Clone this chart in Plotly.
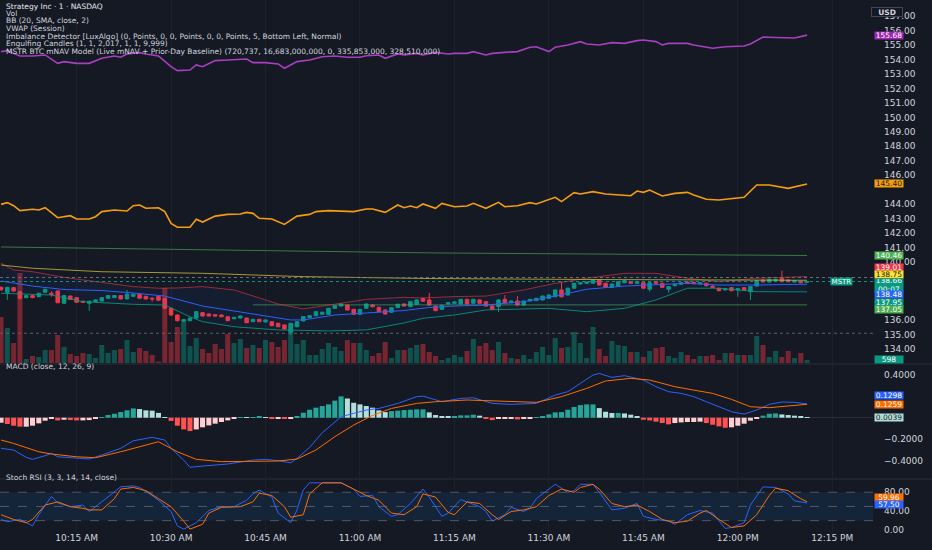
import pandas as pd
import plotly.graph_objects as go

# ------------------------------------------------------------
# CONFIG
# ------------------------------------------------------------
FONT = "DejaVu Sans"
BG = "#151924"
GRID = "#1d212c"
TEXT = "#d1d4dc"
UP, DOWN = "#089981", "#f23645"

SESSION_START = "2025-06-02 10:03"   # first 1-minute bar on screen

# ------------------------------------------------------------
# DATA
# ------------------------------------------------------------
bar_open = [
    138.26, 137.92, 138.24, 137.96, 137.55, 137.69, 137.61, 137.92, 137.85, 138.01,
    137.16, 137.66, 137.55, 137.30, 137.16, 137.27, 137.32, 137.51, 137.55, 137.69,
    137.46, 137.64, 137.78, 137.64, 137.51, 137.64, 137.50, 136.81, 136.35, 135.93,
    135.96, 136.14, 136.51, 136.42, 136.37, 136.35, 136.23, 136.09, 136.14, 136.14,
    135.89, 136.05, 135.87, 135.89, 135.78, 135.66, 135.16, 135.54, 135.94, 136.17,
    136.30, 136.40, 136.40, 136.81, 136.97, 137.04, 136.74, 136.40, 136.81, 137.04,
    136.88, 136.70, 136.54, 136.86, 137.11, 136.93, 137.09, 137.48, 137.39, 136.97,
    136.74, 137.11, 137.16, 137.11, 137.43, 137.16, 137.39, 137.27, 136.97, 136.93,
    137.43, 137.20, 137.32, 137.04, 137.32, 137.34, 137.39, 137.50, 137.61, 138.08,
    137.73, 138.20, 138.49, 138.54, 138.54, 138.77, 138.54, 138.26, 138.35, 138.58,
    138.65, 138.54, 138.58, 138.13, 138.65, 138.54, 138.13, 138.37, 138.47, 138.63,
    138.61, 138.49, 138.54, 138.35, 138.19, 138.08, 138.24, 138.08, 138.24, 137.96,
    138.35, 138.77, 138.63, 138.72, 138.89, 138.77, 138.63, 138.68, 138.61,
]
bar_high = [
    138.33, 138.30, 138.30, 138.02, 137.73, 137.73, 137.89, 138.17, 138.00, 138.05,
    137.72, 137.70, 137.58, 137.34, 137.34, 137.43, 137.59, 137.73, 137.73, 137.73,
    138.08, 137.82, 137.82, 137.68, 137.55, 137.68, 137.54, 136.85, 136.39, 136.08,
    136.18, 136.62, 136.55, 136.46, 136.41, 136.39, 136.27, 136.23, 136.32, 136.18,
    136.09, 136.09, 136.05, 135.93, 135.82, 135.70, 135.82, 135.93, 136.28, 136.34,
    136.62, 136.58, 136.85, 137.03, 137.15, 137.08, 136.78, 136.78, 137.15, 137.10,
    136.92, 136.74, 136.90, 137.13, 137.15, 137.31, 137.43, 137.56, 137.87, 137.01,
    137.06, 137.24, 137.29, 137.47, 137.47, 137.47, 137.43, 137.31, 137.01, 137.43,
    137.73, 137.36, 137.66, 137.36, 137.47, 137.54, 137.70, 137.77, 138.12, 138.65,
    138.24, 138.58, 138.62, 138.67, 138.81, 138.81, 138.58, 138.53, 138.69, 138.76,
    138.69, 138.69, 138.62, 138.62, 138.69, 138.58, 138.35, 138.53, 138.62, 138.67,
    138.65, 138.62, 138.58, 138.39, 138.23, 138.21, 138.28, 138.21, 138.28, 138.35,
    138.76, 138.81, 138.86, 138.86, 139.41, 138.81, 138.76, 138.72, 138.70,
]
bar_low = [
    138.02, 137.40, 137.96, 137.40, 137.50, 137.51, 137.58, 137.88, 137.62, 137.16,
    137.12, 137.40, 137.19, 137.19, 136.63, 137.24, 137.29, 137.48, 137.52, 137.42,
    137.43, 137.61, 137.48, 137.42, 137.27, 137.33, 136.76, 136.30, 135.90, 135.88,
    135.92, 136.10, 136.24, 136.25, 136.25, 136.20, 135.92, 136.06, 136.11, 135.78,
    135.86, 135.86, 135.84, 135.57, 135.50, 135.35, 134.97, 135.50, 135.91, 136.14,
    136.27, 136.37, 136.37, 136.78, 136.94, 136.66, 136.36, 136.37, 136.78, 136.88,
    136.54, 136.38, 136.51, 136.83, 136.94, 136.90, 137.06, 137.26, 137.00, 136.61,
    136.71, 137.08, 137.13, 137.08, 137.08, 137.13, 137.13, 136.93, 136.70, 136.56,
    137.17, 137.17, 137.01, 137.01, 137.29, 137.31, 137.36, 137.47, 137.58, 137.57,
    137.70, 138.17, 138.46, 138.51, 138.51, 138.38, 138.22, 138.23, 138.32, 138.55,
    138.51, 138.51, 138.16, 137.96, 138.51, 138.22, 137.89, 138.34, 138.44, 138.51,
    138.48, 138.46, 138.33, 138.23, 137.99, 138.05, 137.99, 137.61, 138.04, 137.39,
    138.32, 138.60, 138.60, 138.69, 138.62, 138.62, 138.60, 138.55, 138.58,
]
bar_close = [
    138.10, 138.26, 138.01, 137.51, 137.69, 137.55, 137.85, 138.13, 137.78, 137.20,
    137.69, 137.43, 137.23, 137.23, 137.30, 137.39, 137.55, 137.69, 137.69, 137.46,
    137.78, 137.78, 137.51, 137.46, 137.46, 137.37, 136.81, 136.35, 135.96, 136.03,
    136.14, 136.58, 136.28, 136.28, 136.28, 136.23, 135.96, 136.19, 136.28, 135.82,
    136.05, 135.89, 136.01, 135.61, 135.54, 135.39, 135.78, 135.89, 136.24, 136.30,
    136.58, 136.54, 136.81, 136.99, 137.11, 136.70, 136.40, 136.74, 137.11, 136.92,
    136.58, 136.42, 136.86, 137.09, 136.97, 137.27, 137.39, 137.30, 137.04, 136.65,
    137.02, 137.20, 137.25, 137.43, 137.11, 137.43, 137.16, 136.97, 136.74, 137.39,
    137.20, 137.32, 137.04, 137.32, 137.43, 137.50, 137.66, 137.73, 138.08, 137.61,
    138.20, 138.54, 138.58, 138.63, 138.77, 138.42, 138.26, 138.49, 138.65, 138.72,
    138.54, 138.65, 138.20, 138.58, 138.54, 138.26, 138.31, 138.49, 138.58, 138.54,
    138.51, 138.58, 138.37, 138.26, 138.03, 138.17, 138.03, 138.17, 138.08, 138.31,
    138.72, 138.63, 138.82, 138.82, 138.65, 138.65, 138.72, 138.58, 138.66,
]
volume = [
    9200, 7000, 4000, 18000, 800, 1400, 1200, 2600, 2600, 5600,
    3200, 1800, 1400, 2000, 1800, 1000, 3600, 2000, 2600, 2800,
    4600, 2200, 3000, 2400, 1600, 300, 15000, 4200, 7200, 8400,
    3400, 5000, 2800, 2000, 3800, 2800, 5800, 4000, 4800, 3000,
    3600, 3000, 4600, 4200, 3200, 4600, 7800, 3800, 4600, 1600,
    1600, 2800, 4000, 3200, 2400, 4600, 4000, 4000, 2600, 1400,
    2000, 4200, 1000, 2600, 2600, 3000, 3600, 3800, 2200, 1400,
    600, 1000, 1600, 1200, 2400, 4800, 3400, 4000, 2600, 4200,
    2000, 1000, 800, 1600, 800, 2200, 3200, 1600, 5000, 3000,
    3200, 6200, 4000, 1000, 7200, 2800, 1400, 4400, 3600, 3400,
    2200, 2200, 1200, 2400, 3000, 3200, 1400, 1000, 2200, 1600,
    800, 1400, 1400, 1600, 600, 2000, 2000, 1600, 1600, 1600,
    5400, 3600, 1200, 2400, 1200, 2400, 1000, 2000, 598,
]
macd_hist = [
    -0.047, -0.059, -0.075, -0.084, -0.084, -0.075, -0.053, -0.028, -0.006, -0.025,
    -0.019, -0.022, -0.025, -0.025, -0.022, -0.012, 0.006, 0.025, 0.037, 0.053,
    0.069, 0.087, 0.081, 0.069, 0.066, 0.045, 0.006, -0.030, -0.075, -0.110,
    -0.125, -0.110, -0.090, -0.072, -0.056, -0.040, -0.025, -0.012, 0.006, 0.003,
    0.006, 0.009, 0.006, -0.006, -0.006, -0.012, -0.006, 0.012, 0.047, 0.075,
    0.094, 0.109, 0.125, 0.160, 0.200, 0.180, 0.140, 0.125, 0.110, 0.094,
    0.069, 0.053, 0.062, 0.066, 0.072, 0.075, 0.078, 0.078, 0.050, 0.025,
    0.012, 0.009, 0.016, 0.022, 0.022, 0.028, 0.019, -0.006, -0.022, -0.012,
    -0.006, -0.006, -0.016, -0.009, -0.003, 0.006, 0.016, 0.031, 0.050, 0.053,
    0.075, 0.100, 0.118, 0.125, 0.125, 0.090, 0.056, 0.044, 0.044, 0.040,
    0.028, 0.012, -0.019, -0.025, -0.037, -0.050, -0.062, -0.050, -0.044, -0.040,
    -0.040, -0.037, -0.050, -0.066, -0.081, -0.094, -0.090, -0.075, -0.056, -0.028,
    -0.006, 0.019, 0.037, 0.040, 0.031, 0.025, 0.019, 0.012, 0.0039,
]

# overlay lines: (bar index, value) samples
bb_upper_idx = [0, 2, 5, 10, 16, 21, 25, 28, 32, 37, 41, 44, 48, 53, 58, 64, 67, 72, 77, 83, 88, 93, 99, 104, 109, 114, 120, 128]
bb_upper = [139.92, 139.46, 139.34, 138.95, 138.60, 138.31, 138.20, 138.22, 138.31, 138.08, 137.53, 137.11, 136.77, 137.11,
            137.43, 137.57, 137.53, 137.62, 137.66, 138.08, 138.54, 138.89, 139.23, 139.23, 138.89, 138.65, 138.89, 139.01]
bb_basis_idx = [0, 5, 10, 16, 21, 26, 32, 37, 42, 46, 48, 53, 58, 64, 68, 72, 77, 83, 88, 93, 99, 104, 109, 114, 120, 128]
bb_basis = [138.70, 138.35, 138.11, 138.04, 137.87, 137.66, 136.97, 136.63, 136.28, 136.01, 136.01, 136.35, 136.49,
            136.66, 136.87, 136.97, 137.04, 137.27, 137.66, 138.13, 138.35, 138.42, 138.54, 138.42, 138.42, 138.48]
bb_lower_idx = [0, 8, 13, 21, 26, 30, 32, 37, 44, 52, 58, 64, 67, 72, 77, 87, 93, 99, 104, 109, 114, 120, 128]
bb_lower = [137.85, 137.73, 137.27, 137.09, 137.04, 136.23, 135.89, 135.54, 135.32, 135.25, 135.32, 135.80, 136.12,
            136.35, 136.70, 136.81, 136.58, 136.81, 137.39, 138.20, 138.20, 137.96, 137.95]
vwap_idx = [0, 5, 16, 32, 48, 68, 95, 128]
vwap = [139.80, 139.58, 139.34, 139.23, 139.00, 138.87, 138.80, 138.75]
zone_top_idx = [0, 68, 128]
zone_top = [141.05, 140.64, 140.46]
zone_bottom_idx = [40, 128]
zone_bottom = [137.05, 137.05]
prior_close = 138.94
session_low_mark = 135.09
last_price = 138.66

mnav_idx = [0, 1, 3, 5, 7, 9, 10, 12, 14, 16, 18, 19, 20, 22, 23, 25, 27, 28, 30, 31, 32, 34, 36, 38, 39, 40, 42,
            44, 45, 47, 49, 51, 53, 55, 57, 58, 60, 61, 63, 64, 66, 67, 69, 71, 72, 74, 75, 77, 78, 80, 82, 84, 85,
            87, 88, 90, 92, 93, 95, 97, 99, 101, 102, 104, 105, 106, 109, 110, 112, 113, 115, 117, 118, 119, 121,
            123, 126, 128]
mnav = [154.54, 154.61, 154.24, 154.24, 154.31, 153.73, 153.85, 153.73, 153.73, 154.08, 154.24, 154.15, 154.38,
        154.47, 154.38, 154.24, 153.50, 153.23, 153.27, 153.62, 153.50, 153.92, 153.96, 154.01, 154.03, 153.78,
        153.78, 153.69, 153.39, 153.85, 153.96, 154.19, 154.24, 154.15, 154.15, 154.26, 154.31, 154.08, 154.38,
        154.31, 154.42, 154.31, 154.49, 154.38, 154.42, 154.42, 154.54, 154.31, 154.42, 154.49, 154.54, 154.84,
        154.88, 154.54, 154.84, 155.00, 155.23, 155.07, 155.00, 155.16, 155.11, 155.30, 155.34, 155.23, 155.00,
        155.11, 155.11, 155.00, 154.84, 154.77, 154.88, 154.88, 154.93, 155.07, 155.55, 155.52, 155.48, 155.68]
baseline_idx = [0, 1, 2, 3, 5, 6, 7, 9, 11, 12, 14, 15, 16, 18, 20, 21, 22, 23, 25, 26, 27, 28, 30, 31, 32, 34, 36,
                38, 39, 40, 41, 43, 45, 47, 49, 50, 52, 54, 56, 58, 59, 61, 63, 64, 65, 66, 67, 69, 70, 72, 74, 75,
                77, 79, 80, 82, 84, 85, 88, 89, 91, 92, 94, 96, 98, 100, 101, 102, 103, 105, 107, 109, 110, 112,
                114, 117, 118, 120, 122, 125, 128]
baseline = [143.99, 144.11, 143.90, 143.56, 143.65, 143.60, 143.76, 143.07, 143.21, 142.98, 142.98, 143.14, 143.49,
            143.60, 143.53, 143.90, 143.95, 143.72, 143.76, 143.49, 142.68, 142.41, 142.41, 142.96, 142.77, 143.18,
            143.30, 143.33, 143.44, 143.37, 143.03, 142.98, 142.61, 143.18, 143.30, 143.49, 143.56, 143.53, 143.49,
            143.67, 143.67, 143.44, 143.95, 143.76, 143.88, 143.76, 144.02, 143.72, 144.06, 143.83, 143.88, 144.06,
            143.72, 144.13, 143.83, 143.90, 144.11, 144.02, 144.48, 144.18, 144.80, 144.71, 144.87, 144.71, 144.64,
            144.59, 144.91, 144.82, 144.98, 144.57, 144.75, 144.82, 144.64, 144.34, 144.29, 144.45, 144.48, 145.33,
            145.33, 145.10, 145.40]

macd_idx = [0, 2, 4, 5, 7, 8, 9, 12, 14, 16, 19, 21, 24, 26, 27, 29, 30, 32, 36, 40, 42, 44, 46, 47, 49, 51, 54,
            56, 58, 60, 63, 66, 67, 70, 73, 75, 78, 81, 85, 88, 90, 92, 94, 95, 97, 99, 102, 104, 106, 108, 110,
            112, 114, 116, 118, 120, 122, 124, 126, 128]
macd_line = [-0.287, -0.303, -0.372, -0.390, -0.356, -0.334, -0.366, -0.375, -0.387, -0.350, -0.287, -0.216,
             -0.184, -0.209, -0.287, -0.397, -0.465, -0.453, -0.434, -0.397, -0.390, -0.403, -0.422, -0.381,
             -0.278, -0.141, 0.009, 0.041, 0.072, 0.087, 0.134, 0.197, 0.203, 0.150, 0.181, 0.187, 0.134, 0.125,
             0.134, 0.212, 0.244, 0.322, 0.400, 0.415, 0.378, 0.394, 0.353, 0.291, 0.244, 0.228, 0.197, 0.150,
             0.103, 0.056, 0.034, 0.072, 0.125, 0.147, 0.144, 0.1298]
signal_idx = [0, 2, 6, 8, 12, 15, 19, 23, 25, 28, 31, 35, 40, 44, 47, 50, 53, 56, 59, 62, 66, 69, 74, 77, 81, 85,
              89, 93, 96, 100, 103, 107, 110, 113, 116, 119, 122, 125, 128]
signal_line = [-0.209, -0.241, -0.319, -0.340, -0.366, -0.375, -0.319, -0.256, -0.225, -0.319, -0.390, -0.412,
               -0.412, -0.406, -0.387, -0.303, -0.178, -0.069, 0.022, 0.087, 0.134, 0.150, 0.166, 0.159, 0.150,
               0.144, 0.197, 0.275, 0.344, 0.369, 0.353, 0.291, 0.259, 0.228, 0.172, 0.103, 0.094, 0.112, 0.1259]

stoch_k_idx = [0, 1, 3, 5, 6, 8, 9, 11, 13, 14, 15, 17, 19, 21, 22, 24, 25, 27, 28, 29, 31, 33, 35, 37, 39, 40, 41,
               43, 44, 46, 47, 48, 49, 51, 54, 56, 57, 59, 60, 62, 63, 65, 67, 68, 70, 71, 73, 74, 76, 77, 78, 80,
               81, 83, 84, 85, 88, 90, 91, 92, 94, 95, 97, 99, 101, 102, 104, 106, 107, 109, 111, 113, 115, 116,
               118, 119, 121, 123, 125, 126, 128]
stoch_k = [22.4, 17.6, 22.4, 8.8, 32.5, 71.2, 57.6, 49.5, 52.9, 39.3, 49.5, 69.8, 91.5, 93.6, 90.2, 73.2, 63.1,
           39.3, 8.8, 2.0, 15.6, 41.4, 49.5, 49.5, 63.1, 76.6, 84.7, 69.8, 35.9, 15.6, 42.7, 85.0, 100.0, 100.0,
           100.0, 86.8, 71.2, 73.2, 49.5, 29.2, 32.5, 56.3, 86.8, 69.8, 29.2, 35.9, 64.4, 59.7, 49.5, 39.3, 19.0,
           32.5, 48.1, 39.3, 46.1, 66.4, 96.9, 80.0, 83.4, 96.9, 96.9, 80.0, 42.7, 46.1, 56.3, 29.2, 22.4, 19.0,
           12.2, 32.5, 41.4, 35.9, 3.4, 5.4, 15.6, 52.9, 91.5, 90.2, 76.6, 61.7, 57.50]
stoch_d_idx = [0, 2, 4, 5, 7, 9, 11, 13, 14, 16, 18, 19, 21, 23, 25, 27, 29, 30, 32, 33, 35, 38, 40, 41, 43, 45,
               46, 48, 49, 51, 54, 57, 58, 60, 62, 64, 66, 67, 69, 71, 72, 74, 76, 78, 79, 81, 83, 85, 87, 89, 91,
               92, 94, 95, 97, 99, 101, 103, 105, 107, 109, 111, 112, 114, 116, 118, 120, 122, 123, 125, 127, 128]
stoch_d = [32.5, 22.4, 15.6, 22.4, 52.9, 59.7, 49.5, 46.1, 42.7, 42.7, 66.4, 86.8, 90.2, 83.4, 66.4, 49.5, 19.0,
           2.0, 12.2, 35.9, 48.1, 49.5, 59.7, 78.0, 73.2, 49.5, 27.1, 32.5, 76.6, 100.0, 100.0, 80.0, 73.2, 63.1,
           35.9, 32.5, 49.5, 76.6, 69.8, 37.3, 32.5, 59.7, 56.3, 32.5, 22.4, 39.3, 42.7, 49.5, 73.2, 86.8, 80.0,
           90.2, 96.9, 86.8, 56.3, 49.5, 52.9, 39.3, 22.4, 15.6, 19.0, 35.9, 41.4, 22.4, 5.4, 8.8, 32.5, 73.2,
           88.8, 83.4, 66.4, 59.96]

x_tick_times = ["10:15", "10:30", "10:45", "11:00", "11:15", "11:30", "11:45", "12:00", "12:15"]
x_tick_labels = ["10:15 AM", "10:30 AM", "10:45 AM", "11:00 AM", "11:15 AM", "11:30 AM", "11:45 AM", "12:00 PM", "12:15 PM"]
# scale labels that stay readable next to the price tags
price_ticks = [134, 135, 136, 140, 141, 142, 143, 144, 146, 147, 148, 149, 150, 151, 152, 153, 154, 155, 156, 157]
macd_ticks = [-0.4, -0.2, 0.4]
stoch_ticks = [0, 40, 80]

legend_lines = [
    "Strategy Inc · 1 · NASDAQ",
    "Vol",
    "BB (20, SMA, close, 2)",
    "VWAP (Session)",
    "Imbalance Detector [LuxAlgo] (0, Points, 0, 0, Points, 0, 0, Points, 5, Bottom Left, Normal)",
    "Engulfing Candles (1, 1, 2,017, 1, 1, 9,999)",
    "MSTR BTC mNAV Model (Live mNAV + Prior-Day Baseline) (720,737, 16,683,000,000, 0, 335,853,000, 328,510,000)",
]

# ------------------------------------------------------------
# LAYOUT GEOMETRY (pixels of the 932x550 TradingView shot)
# ------------------------------------------------------------
PLOT_W, PLOT_H = 873, 531
def py(pix):
    return 1 - pix / PLOT_H

MAIN_DOM = [py(363), 1]
MACD_DOM = [py(478), py(365)]
STOCH_DOM = [0, py(480)]
DAY = SESSION_START.split(" ")[0]

times = pd.date_range(SESSION_START, periods=len(bar_close), freq="min")
def at(idx):
    return [times[i] for i in idx]

fig = go.Figure()

# ------------------------------------------------------------
# 1. volume (base axis, drawn first so candles sit on top)
# ------------------------------------------------------------
vol_colors = ["rgba(8,153,129,0.45)" if c >= o else "rgba(242,54,69,0.45)" for o, c in zip(bar_open, bar_close)]
fig.add_trace(go.Bar(x=times, y=volume, width=48000, marker=dict(color=vol_colors, line=dict(width=0)),
                     xaxis="x", yaxis="y", hoverinfo="skip"))

# ------------------------------------------------------------
# 2. price overlays
# ------------------------------------------------------------
def line(idx, vals, color, width=1, axis="y2", dash=None, **kw):
    fig.add_trace(go.Scatter(x=at(idx), y=vals, mode="lines", yaxis=axis, xaxis="x", hoverinfo="skip",
                             line=dict(color=color, width=width, dash=dash), **kw))

line(zone_top_idx, zone_top, "rgba(76,175,80,0.65)")
line(zone_bottom_idx, zone_bottom, "rgba(76,175,80,0.65)")
line(bb_lower_idx, bb_lower, "rgba(8,153,129,0.85)")
line(bb_upper_idx, bb_upper, "rgba(242,54,69,0.6)", fill="tonexty", fillcolor="rgba(41,98,255,0.06)")
line(bb_basis_idx, bb_basis, "#2962ff")
line(vwap_idx, vwap, "rgba(214,196,60,0.75)")
line(mnav_idx, mnav, "#a83fbf", width=1.6)
line(baseline_idx, baseline, "#f59e0b", width=1.6)

fig.add_trace(go.Candlestick(
    x=times, open=bar_open, high=bar_high, low=bar_low, close=bar_close,
    xaxis="x", yaxis="y2", whiskerwidth=0, hoverinfo="skip",
    increasing=dict(line=dict(color=UP, width=1), fillcolor=UP),
    decreasing=dict(line=dict(color=DOWN, width=1), fillcolor=DOWN),
))

# ------------------------------------------------------------
# 3. MACD
# ------------------------------------------------------------
hist_colors = []
for i, v in enumerate(macd_hist):
    prev = macd_hist[i - 1] if i else v
    if v >= 0:
        hist_colors.append("#26a69a" if v >= prev else "#b2dfdb")
    else:
        hist_colors.append("#ffcdd2" if v >= prev else "#ff5252")
fig.add_trace(go.Bar(x=times, y=macd_hist, width=48000, marker=dict(color=hist_colors, line=dict(width=0)),
                     xaxis="x", yaxis="y3", hoverinfo="skip"))
line(macd_idx, macd_line, "#2962ff", axis="y3")
line(signal_idx, signal_line, "#ff6d00", axis="y3")

# ------------------------------------------------------------
# 4. Stoch RSI
# ------------------------------------------------------------
line(stoch_k_idx, stoch_k, "#2962ff", axis="y4")
line(stoch_d_idx, stoch_d, "#ff6d00", axis="y4")

# ------------------------------------------------------------
# SHAPES
# ------------------------------------------------------------
shapes = [
    dict(type="line", xref="paper", x0=0, x1=1, yref="y2", y0=prior_close, y1=prior_close,
         line=dict(color="#6a6d78", width=1, dash="dot")),
    dict(type="line", xref="paper", x0=0, x1=1, yref="y2", y0=last_price, y1=last_price,
         line=dict(color=UP, width=1, dash="dot")),
    dict(type="line", xref="paper", x0=0, x1=1, yref="y2", y0=session_low_mark, y1=session_low_mark,
         line=dict(color="#5d606b", width=1, dash="dot")),
    dict(type="rect", xref="paper", x0=0, x1=1, yref="y4", y0=20, y1=80, layer="below",
         fillcolor="rgba(33,150,243,0.10)", line=dict(width=0)),
]
for lvl in (80, 50, 20):
    shapes.append(dict(type="line", xref="paper", x0=0, x1=1, yref="y4", y0=lvl, y1=lvl,
                       line=dict(color="rgba(120,123,134,0.6)", width=1, dash="dash")))
for sep in (364, 479):
    shapes.append(dict(type="line", xref="paper", x0=0, x1=932 / PLOT_W, yref="paper", y0=py(sep), y1=py(sep),
                       line=dict(color="#2a2e39", width=1)))

# ------------------------------------------------------------
# ANNOTATIONS (legend text + scale tags)
# ------------------------------------------------------------
TAG_X = 889.5 / PLOT_W

def tag(text, y, yref, bg, fg="#ffffff", shift=0, h=7):
    return dict(text=text, x=TAG_X, xref="paper", y=y, yref=yref, yshift=shift, showarrow=False,
                bgcolor=bg, width=28, height=h, borderpad=0, xanchor="center", yanchor="middle",
                font=dict(family=FONT, size=7.5, color=fg))

ann = []
for k, (txt, pix) in enumerate(zip(legend_lines, [6, 13.5, 21, 28.5, 36, 43.5, 51])):
    ann.append(dict(text=txt, x=4 / PLOT_W, xref="paper", y=py(pix), yref="paper", showarrow=False,
                    xanchor="left", yanchor="middle",
                    font=dict(family=FONT, size=7.5, color="#e6e8ee" if k == 0 else TEXT)))
ann.append(dict(text="MACD (close, 12, 26, 9)", x=4 / PLOT_W, xref="paper", y=py(373), yref="paper",
                showarrow=False, xanchor="left", font=dict(family=FONT, size=7.5, color=TEXT)))
ann.append(dict(text="Stoch RSI (3, 3, 14, 14, close)", x=4 / PLOT_W, xref="paper", y=py(484), yref="paper",
                showarrow=False, xanchor="left", font=dict(family=FONT, size=7.5, color=TEXT)))

ann += [
    tag(f"{mnav[-1]:.2f}", mnav[-1], "y2", "#9c27b0"),
    tag(f"{baseline[-1]:.2f}", baseline[-1], "y2", "#f59e0b", fg="#1a1a1a"),
    tag(f"{zone_top[-1]:.2f}", zone_top[-1], "y2", "#4caf50"),
    tag(f"{bb_upper[-1]:.2f}", bb_upper[-1], "y2", "#f23645", shift=9.5),
    tag(f"{vwap[-1]:.2f}", vwap[-1], "y2", "#f5e23b", fg="#1a1a1a", shift=5.5),
    tag(f"{last_price:.2f}<br>00:07", last_price, "y2", UP, shift=-3.5, h=12),
    tag(f"{bb_basis[-1]:.2f}", bb_basis[-1], "y2", "#2962ff", shift=-10.5),
    tag(f"{bb_lower[-1]:.2f}", bb_lower[-1], "y2", UP, shift=-10.2),
    tag(f"{zone_bottom[-1]:.2f}", zone_bottom[-1], "y2", "#4caf50", shift=-4.5),
    tag(f"{volume[-1]}", volume[-1], "y", UP, shift=1),
    tag(f"{macd_line[-1]:.4f}", macd_line[-1], "y3", "#2962ff", shift=8),
    tag(f"{signal_line[-1]:.4f}", signal_line[-1], "y3", "#ff6d00"),
    tag(f"{macd_hist[-1]:.4f}", macd_hist[-1], "y3", "#b2dfdb", fg="#1a1a1a"),
    tag(f"{stoch_d[-1]:.2f}", stoch_d[-1], "y4", "#ff6d00", shift=4),
    tag(f"{stoch_k[-1]:.2f}", stoch_k[-1], "y4", "#2962ff", shift=-1.6),
    dict(text="MSTR", x=852.5 / PLOT_W, xref="paper", y=last_price, yref="y2", showarrow=False,
         bgcolor=UP, width=21, height=7, borderpad=0, font=dict(family=FONT, size=7, color="#ffffff")),
    dict(text="<b>USD</b>", x=903 / PLOT_W, xref="paper", y=py(7), yref="paper", showarrow=False,
         bgcolor=BG, bordercolor="#434651", borderwidth=1, width=30, height=8, borderpad=0,
         font=dict(family=FONT, size=7.5, color=TEXT)),
]

# ------------------------------------------------------------
# LAYOUT
# ------------------------------------------------------------
tick_font = dict(family=FONT, size=9, color=TEXT)
fig.update_layout(
    width=932, height=550,
    margin=dict(l=0, r=932 - PLOT_W, t=0, b=550 - PLOT_H),
    paper_bgcolor=BG, plot_bgcolor=BG,
    showlegend=False, hovermode=False,
    font=dict(family=FONT, size=9, color=TEXT),
    boxgap=0.2,
    shapes=shapes, annotations=ann,
    xaxis=dict(type="date", anchor="y4",
               range=[f"{DAY} 10:02:50", f"{DAY} 12:21:28"],
               tickvals=[f"{DAY} {t}" for t in x_tick_times], ticktext=x_tick_labels,
               showgrid=True, gridcolor=GRID, gridwidth=1, zeroline=False, showline=False,
               ticks="", tickfont=tick_font, rangeslider=dict(visible=False), fixedrange=True),
    yaxis=dict(domain=MAIN_DOM, range=[0, 72600], visible=False, fixedrange=True),
    yaxis2=dict(overlaying="y", side="right", range=[133.036, 158.105],
                tickvals=price_ticks, ticktext=[f"{v:.2f}" for v in price_ticks],
                showgrid=False, zeroline=False, ticks="", ticklabelstandoff=10, tickfont=tick_font,
                fixedrange=True),
    yaxis3=dict(domain=MACD_DOM, side="right", range=[-0.565, 0.494],
                tickvals=macd_ticks, ticktext=[f"{v:.4f}".replace("-", "\u2212") for v in macd_ticks],
                showgrid=False, zeroline=True, zerolinecolor="#2a2e39", zerolinewidth=1,
                ticks="", ticklabelstandoff=10, tickfont=tick_font, fixedrange=True),
    yaxis4=dict(domain=STOCH_DOM, side="right", range=[-2, 106],
                tickvals=stoch_ticks, ticktext=[f"{v:.2f}" for v in stoch_ticks],
                showgrid=False, zeroline=False, ticks="", ticklabelstandoff=10, tickfont=tick_font,
                fixedrange=True),
)

# the page's default 8px body margin would push the chart off the 932x550 window
fig.write_html("out.html", config={"displayModeBar": False},
               post_script="document.body.style.margin='0';document.body.style.overflow='hidden';")
